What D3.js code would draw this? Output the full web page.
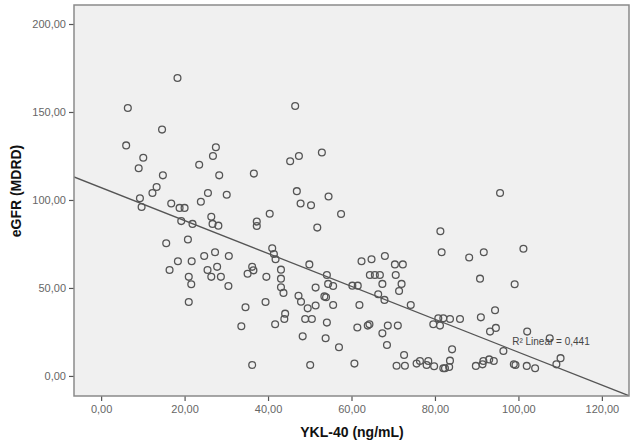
<!DOCTYPE html>
<html>
<head>
<meta charset="utf-8">
<script src="https://cdn.jsdelivr.net/npm/d3@7"></script>
<style>
  body { margin: 0; background: #fff; }
  text { font-family: Arial, "Liberation Sans", sans-serif; }
</style>
</head>
<body>
<div id="chart"></div>
<script>
const width = 633, height = 443;

// YKL-40 (ng/mL) values
const ykl = [18.3, 6.4, 14.6, 6.0, 27.5, 26.8, 10.1, 9.0, 23.5, 28.3, 36.6, 14.8, 13.3, 12.3, 25.6, 30.1,
  9.3, 9.7, 16.8, 23.9, 18.8, 20.0, 26.4, 19.2, 21.9, 26.7, 28.1, 37.3, 37.3, 40.4, 20.8,
  46.5, 52.9, 47.4, 45.3, 46.9, 54.5, 47.8, 50.3, 57.5, 51.8, 81.3, 95.6,
  15.6, 18.4, 21.7, 24.7, 27.3, 30.6, 16.4, 25.5, 27.8, 26.4, 28.7, 21.0, 21.6, 30.5, 21.0,
  36.2, 35.1, 36.5, 39.6, 34.6, 39.4, 33.6, 36.2,
  41.0, 41.4, 41.8, 43.1, 43.1, 43.1, 43.7, 44.1, 43.9, 41.7, 49.9, 54.1, 54.4, 55.6, 51.4,
  47.3, 47.9, 53.5, 53.9, 51.4, 49.5, 55.6, 48.9, 50.5, 54.1, 48.3, 53.8, 57.0, 50.1, 60.7,
  60.2, 61.5, 61.9, 62.4, 64.8, 68.0, 64.4, 65.6, 66.8, 67.4, 66.4, 67.9, 70.4, 72.3, 70.6,
  72.0, 71.4, 74.2, 61.4, 63.9, 64.3, 68.7, 71.1, 67.4, 68.5, 72.6, 70.8, 72.8, 75.6, 76.4,
  78.4, 78.0, 79.8, 82.0, 79.6, 80.8, 81.2, 81.6,
  88.2, 91.7, 101.2, 90.8, 99.1, 82.0, 83.6, 86.0, 91.0, 94.4, 94.6, 93.2, 102.1, 107.5,
  96.4, 84.1, 83.6, 82.4, 83.4, 89.8, 91.4, 91.6, 93.0, 94.1, 98.9, 99.3, 102.0, 104.0,
  109.1, 110.1];

// eGFR (MDRD) values
const egfr = [169.3, 152.3, 140.0, 131.0, 130.0, 125.0, 124.0, 118.0, 120.0, 114.0, 115.0, 114.0, 107.4, 104.0, 104.0, 103.0,
  101.0, 96.0, 98.0, 99.0, 95.5, 95.5, 90.5, 88.0, 86.4, 86.4, 85.4, 87.7, 85.2, 92.2, 77.5,
  153.4, 127.0, 125.0, 122.0, 105.0, 102.0, 98.0, 97.0, 92.0, 84.3, 82.2, 104.0,
  75.4, 65.2, 65.2, 68.2, 70.3, 68.2, 60.2, 60.2, 62.0, 56.3, 56.3, 56.3, 52.1, 51.1, 42.0,
  62.0, 58.1, 60.0, 56.3, 39.0, 42.0, 28.2, 6.2,
  72.5, 69.3, 66.3, 60.4, 55.3, 50.4, 47.2, 35.4, 32.4, 29.4, 63.4, 57.4, 52.3, 51.1, 50.2,
  45.6, 42.2, 45.2, 44.7, 40.0, 38.4, 40.3, 32.4, 32.4, 30.3, 22.5, 21.4, 16.3, 6.2, 7.0,
  51.3, 51.3, 40.3, 65.2, 66.3, 68.2, 57.4, 57.4, 57.4, 52.3, 46.4, 43.2, 63.4, 63.4, 57.4,
  52.3, 48.3, 40.3, 27.5, 28.6, 29.4, 28.6, 28.6, 24.2, 17.6, 11.9, 5.8, 5.8, 7.0, 8.5,
  8.5, 6.2, 5.5, 4.4, 29.4, 32.8, 28.6, 70.3,
  67.3, 70.3, 72.3, 55.3, 52.1, 32.8, 32.4, 32.4, 33.3, 37.3, 27.3, 25.2, 25.2, 21.4,
  14.2, 15.1, 8.7, 4.4, 5.1, 5.7, 6.6, 8.5, 9.4, 8.5, 6.6, 6.2, 5.7, 4.4,
  6.6, 10.1];

const xTicks = [0, 20, 40, 60, 80, 100, 120];
const yTicks = [0, 50, 100, 150, 200];

// linear fit
const fitIntercept = 107.0;
const fitSlope = -0.935;
const rSquared = "R² Linear = 0,441";

const points = ykl.map((d, i) => ({ x: d, y: egfr[i] }));

const plot = { left: 74, top: 5, right: 629, bottom: 396 };

const x = d3.scaleLinear()
    .domain([-6.5, 126.5])
    .range([plot.left, plot.right]);

const y = d3.scaleLinear()
    .domain([-11.4, 210.8])
    .range([plot.bottom, plot.top]);

const fmt = v => d3.format(".2f")(v).replace(".", ",");

const svg = d3.select("#chart")
    .append("svg")
    .attr("width", width)
    .attr("height", height);

// plot background
svg.append("rect")
    .attr("x", plot.left)
    .attr("y", plot.top)
    .attr("width", plot.right - plot.left)
    .attr("height", plot.bottom - plot.top)
    .attr("fill", "#f0f0f0");

svg.append("clipPath")
    .attr("id", "clip")
    .append("rect")
    .attr("x", plot.left)
    .attr("y", plot.top)
    .attr("width", plot.right - plot.left)
    .attr("height", plot.bottom - plot.top);

// axes
const xAxis = svg.append("g")
    .attr("transform", `translate(0,${plot.bottom})`)
    .call(d3.axisBottom(x).tickValues(xTicks).tickFormat(fmt).tickSize(5).tickPadding(4));

const yAxis = svg.append("g")
    .attr("transform", `translate(${plot.left},0)`)
    .call(d3.axisLeft(y).tickValues(yTicks).tickFormat(fmt).tickSize(5).tickPadding(3));

[xAxis, yAxis].forEach(g => {
    g.select(".domain").remove();
    g.selectAll(".tick line").attr("stroke", "#555").attr("stroke-width", 1.2);
    g.selectAll(".tick text")
        .attr("fill", "#666")
        .style("font-size", "11px");
});

// points
svg.append("g")
    .selectAll("circle")
    .data(points)
    .enter()
    .append("circle")
    .attr("cx", d => x(d.x))
    .attr("cy", d => y(d.y))
    .attr("r", 3.4)
    .attr("fill", "none")
    .attr("stroke", "#555")
    .attr("stroke-width", 1.3);

// fit line
const xd = x.domain();
svg.append("line")
    .attr("clip-path", "url(#clip)")
    .attr("x1", x(xd[0]))
    .attr("y1", y(fitIntercept + fitSlope * xd[0]))
    .attr("x2", x(xd[1]))
    .attr("y2", y(fitIntercept + fitSlope * xd[1]))
    .attr("stroke", "#555")
    .attr("stroke-width", 1.3);

svg.append("text")
    .attr("x", x(98.5))
    .attr("y", y(17.5))
    .attr("fill", "#444")
    .style("font-size", "10px")
    .text(rSquared);

// frame
svg.append("rect")
    .attr("x", plot.left)
    .attr("y", plot.top)
    .attr("width", plot.right - plot.left)
    .attr("height", plot.bottom - plot.top)
    .attr("fill", "none")
    .attr("stroke", "#8a8a8a")
    .attr("stroke-width", 1.5);

// axis titles
svg.append("text")
    .attr("x", 352)
    .attr("y", 437)
    .attr("text-anchor", "middle")
    .attr("font-weight", "bold")
    .style("font-size", "14px")
    .attr("fill", "#111")
    .text("YKL-40 (ng/mL)");

svg.append("text")
    .attr("transform", "translate(21,191) rotate(-90)")
    .attr("text-anchor", "middle")
    .attr("font-weight", "bold")
    .style("font-size", "14px")
    .attr("fill", "#111")
    .text("eGFR (MDRD)");
</script>
</body>
</html>
